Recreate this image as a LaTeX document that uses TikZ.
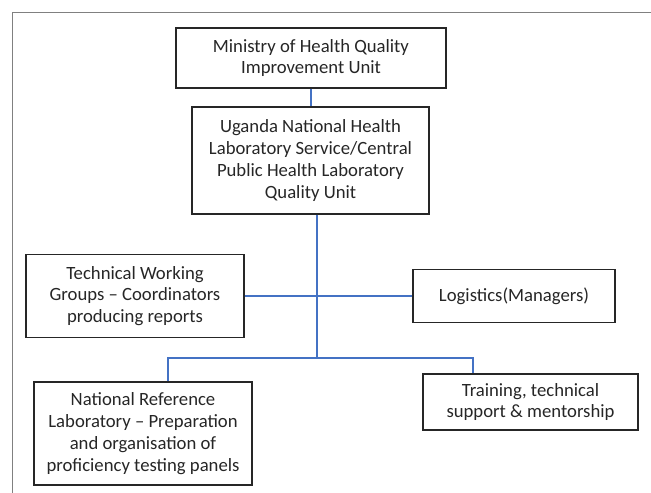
\documentclass[tikz,border=0pt]{standalone}
\usepackage{fontspec}
\setmainfont{Carlito}
\definecolor{linkblue}{RGB}{68,114,196}
\begin{document}
\begin{tikzpicture}[x=1bp,y=-1bp,
  unit/.style={draw=black!85,line width=1.3bp,align=center,inner sep=0pt,
    font=\fontsize{18.7bp}{21.8bp}\selectfont,text=black!85},
  link/.style={draw=linkblue,line width=1.5bp}]
\useasboundingbox (0,0) rectangle (651,493);
\draw[gray,line width=1bp] (12,493) -- (12,13) -- (651,13);
\node[unit,minimum width=270bp,minimum height=60bp]  (1) at (311,58)    {Ministry of Health Quality\\Improvement Unit};
\node[unit,minimum width=237bp,minimum height=107bp] (2) at (310.5,160.5) {Uganda National Health\\Laboratory Service/Central\\Public Health Laboratory\\Quality Unit};
\node[unit,minimum width=218bp,minimum height=83bp]  (3) at (135,296)  {Technical Working\\Groups -- Coordinators\\producing reports};
\node[unit,minimum width=202bp,minimum height=53bp]  (4) at (514,296)  {Logistics(Managers)};
\node[unit,minimum width=218bp,minimum height=103bp] (5) at (143,433.5)  {National Reference\\Laboratory -- Preparation\\and organisation of\\proficiency testing panels};
\node[unit,minimum width=215bp,minimum height=56bp]  (6) at (530.5,402)  {Training, technical\\support \& mentorship};
\coordinate (hub) at (317,358);
\draw[link] (1.south) -- (1.south |- 2.north);
\draw[link] (hub |- 2.south) -- (hub);
\draw[link] (3.east) -- (4.west);
\draw[link] ([xshift=25bp]5.north) |- (hub) -| ([xshift=-57.5bp]6.north);
\end{tikzpicture}
\end{document}
